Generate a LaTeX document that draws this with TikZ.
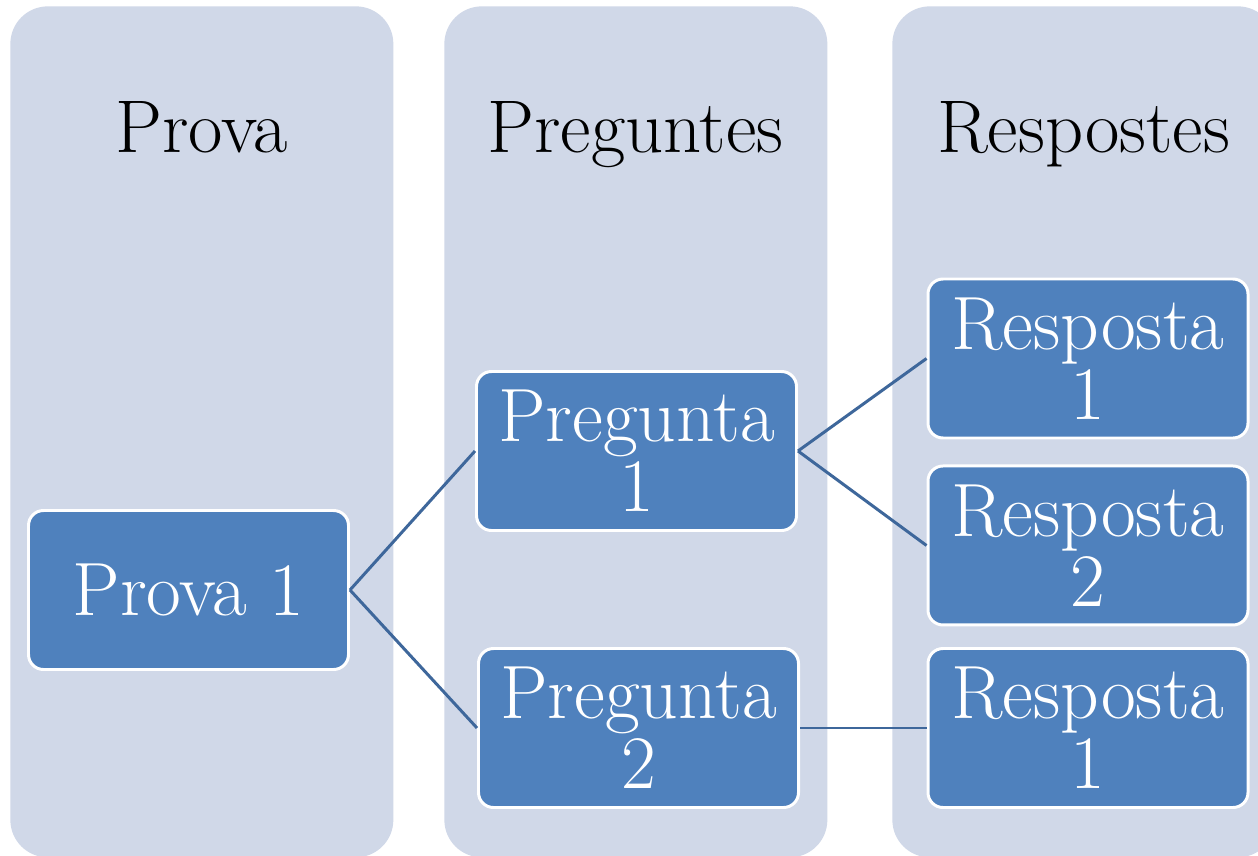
\documentclass[tikz,border=0pt]{standalone}
\usepackage{tikz}
\definecolor{colfill}{RGB}{208,216,232}
\definecolor{boxfill}{RGB}{79,129,189}
\definecolor{linkcol}{RGB}{62,103,155}
\tikzstyle{col}=[shape=rectangle,
                 fill=colfill,
                 rounded corners=0.75cm,
                 minimum width=7.66cm,
                 minimum height=17.02cm,
                 inner sep=0pt]
\tikzstyle{hd}=[anchor=base,
                inner sep=0pt,
                font=\fontsize{42.5}{40}\selectfont]
\tikzstyle{bx}=[shape=rectangle,
                draw=white,
                fill=boxfill,
                line width=1.7pt,
                rounded corners=0.3cm,
                minimum width=6.4cm,
                minimum height=3.18cm,
                inner sep=0pt,
                text=white,
                align=center,
                font=\fontsize{43}{40}\selectfont]
\tikzstyle{link}=[draw=linkcol, line width=1.7pt]
\usetikzlibrary{positioning}

\begin{document}
\begin{tikzpicture}

\clip (0,0) rectangle (25.16,-17.12);
\fill[white] (0,0) rectangle (25.16,-17.12);

% columns
\node[col, anchor=north west] (c1) at (0.2,-0.12) {};
\node[col, anchor=north west] (c2) at (8.88,-0.12) {};
\node[col, anchor=north west] (c3) at (17.84,-0.12) {};

% headers
\node[hd] (h1) at (4.03,-3.06) {Prova};
\node[hd] (h2) at (12.71,-3.06) {Preguntes};
\node[hd] (h3) at (21.67,-3.06) {Respostes};

% boxes
\node[bx] (p1) at (3.77,-11.8) {Prova 1};
\node[bx] (q1) at (12.73,-9.02) {Pregunta\\1};
\node[bx] (q2) at (12.77,-14.56) {Pregunta\\2};
\node[bx] (r1) at (21.76,-7.17) {Resposta\\1};
\node[bx, below=0.5cm of r1] (r2) {Resposta\\2};
\node[bx] (r3) at (21.76,-14.56) {Resposta\\1};

% paths
\path[link] (p1.east) edge (q1.west);
\path[link] (p1.east) edge (q2.west);
\path[link] (q1.east) edge (r1.west);
\path[link] (q1.east) edge (r2.west);
\path[link] (q2.east) edge (r3.west);

\end{tikzpicture}
\end{document}
